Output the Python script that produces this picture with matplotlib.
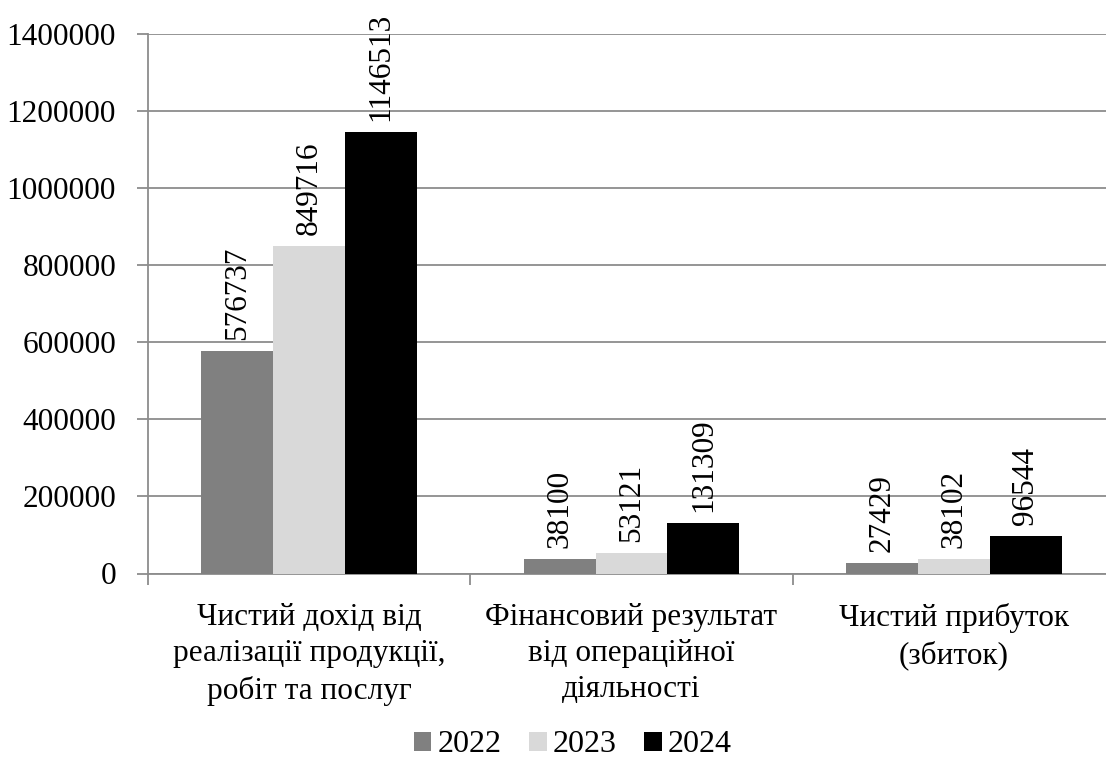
import matplotlib.pyplot as plt
from matplotlib.ticker import FuncFormatter
import numpy as np

plt.rcParams['font.family'] = ['Liberation Serif', 'DejaVu Serif']

categories = ["Чистий дохід від\nреалізації продукції,\nробіт та послуг",
              "Фінансовий результат\nвід операційної\nдіяльності",
              "Чистий прибуток\n(збиток)"]
years = ["2022", "2023", "2024"]
values_2022 = [576737, 38100, 27429]
values_2023 = [849716, 53121, 38102]
values_2024 = [1146513, 131309, 96544]
colors = ["#808080", "#d9d9d9", "#000000"]

fig = plt.figure(figsize=(11.06, 7.58), dpi=100)
ax = fig.add_axes([148 / 1106, 1 - 573.5 / 758, (1115 - 148) / 1106, (573.5 - 34) / 758])

x = np.arange(len(categories))
w = 0.2227
series = [values_2022, values_2023, values_2024]
for i, (vals, yr, c) in enumerate(zip(series, years, colors)):
    pos = x + (i - 1) * w
    ax.bar(pos, vals, width=w, color=c, label=yr, zorder=3)
    for xp, v in zip(pos, vals):
        ax.annotate(f"{v}", (xp, v), xytext=(0, 8), textcoords="offset points",
                    rotation=90, ha="center", va="bottom", fontsize=22.5, zorder=4)

ax.set_xlim(-0.5, 2.5)
ax.set_ylim(0, 1400000)
ax.set_yticks(np.arange(0, 1400001, 200000))
ax.yaxis.set_major_formatter(FuncFormatter(lambda v, p: f"{int(v)}"))
ax.yaxis.grid(True, color="#8c8c8c", linewidth=1.3, zorder=0)
ax.tick_params(axis="y", labelsize=22.5, length=8, width=1.3, color="#8c8c8c", pad=15)

ax.set_xticks(x)
ax.set_xticklabels(categories, fontsize=22.5, linespacing=1.33)
ax.set_xticks([-0.5, 0.5, 1.5, 2.5], minor=True)
ax.tick_params(axis="x", which="major", length=0, pad=21)
ax.tick_params(axis="x", which="minor", length=8, width=1.3, color="#8c8c8c")

for s in ["top", "right"]:
    ax.spines[s].set_visible(False)
for s in ["left", "bottom"]:
    ax.spines[s].set_color("#8c8c8c")
    ax.spines[s].set_linewidth(1.3)

fig.legend(loc="center", bbox_to_anchor=(573 / 1106, 1 - 745 / 758), ncol=3, frameon=False,
           fontsize=23, handlelength=0.55, handleheight=0.55, handletextpad=0.2,
           columnspacing=0.85, borderpad=0)

fig.savefig("out.png", dpi=100)
